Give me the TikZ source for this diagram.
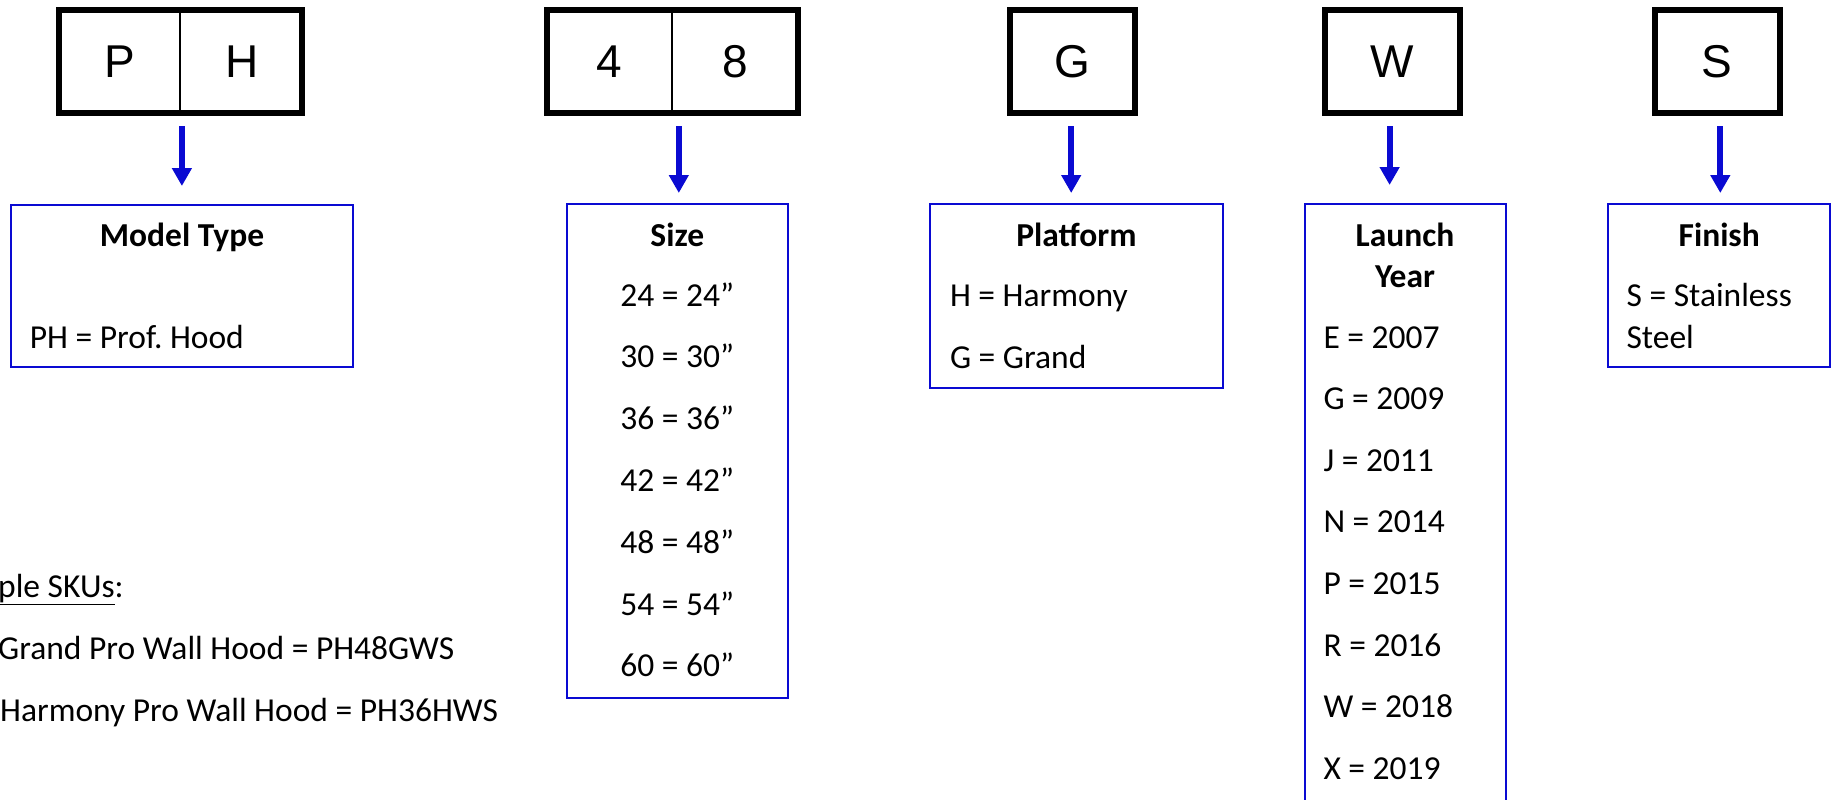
\documentclass[tikz,border=0pt]{standalone}
\usepackage{fontspec}
\setmainfont{Carlito}
\newfontfamily\arialfont{Liberation Sans}
\usepackage{tikz}
\usetikzlibrary{arrows.meta}
\usepackage{xcolor}
\definecolor{keyblue}{RGB}{10,10,210}

\begin{document}
\begin{tikzpicture}[x=1pt, y=-1pt,
    letterbox/.style={draw, line width=6pt, inner sep=0pt, outer sep=0pt, minimum height=103pt},
    letter/.style={inner sep=0pt, font=\arialfont\fontsize{46}{46}\selectfont},
    keybox/.style={draw=keyblue, line width=2pt, inner sep=0pt, outer sep=0pt},
    pointer/.style={keyblue, line width=6pt, -{Triangle[width=19pt,length=18pt]}, shorten <=13pt},
    title/.style={anchor=base, inner sep=0pt, font=\fontsize{33.5}{40}\selectfont\bfseries},
    entry/.style={anchor=base west, inner sep=0pt, font=\fontsize{33.5}{40}\selectfont}]
    \clip (0,0) rectangle (1834,800);

    % code letters
    \node[letterbox, minimum width=243pt] (ph) at (180,61.5) {};
    \node[letterbox, minimum width=251pt] (size) at (672.4,61.5) {};
    \node[letterbox, minimum width=125pt] (plat) at (1072.6,61.5) {};
    \node[letterbox, minimum width=135pt] (year) at (1392,61.5) {};
    \node[letterbox, minimum width=125pt] (fin) at (1717,61.5) {};
    \draw[line width=2pt] (ph.north) -- (ph.south);
    \draw[line width=2pt] (size.north) -- (size.south);
    \foreach \n/\x/\c in {p/120/P, h/242/H, four/609/4, eight/735/8, g/1072.6/G, w/1392/W, s/1717/S}
        \node[letter] (\n) at (\x,62) {\c};

    % key boxes
    \node[keybox, minimum width=342.4pt, minimum height=162pt] (modelkey) at (182.1,286) {};
    \node[keybox, minimum width=220.7pt, minimum height=494pt] (sizekey) at (677.25,451) {};
    \node[keybox, minimum width=292.6pt, minimum height=184pt] (platkey) at (1076.6,296) {};
    \node[keybox, minimum width=201.1pt, minimum height=626pt] (yearkey) at (1405.15,517) {};
    \node[keybox, minimum width=221.5pt, minimum height=163pt] (finkey) at (1719.15,285.5) {};

    \foreach \a/\b/\x/\gap in {ph/modelkey/181.9/19, size/sizekey/678.8/11, plat/platkey/1071.2/11, year/yearkey/1389.6/19, fin/finkey/1720.3/11}
        \draw[pointer, shorten >=\gap pt] (\a.south -| \x,0) -- (\b.north -| \x,0);

    % model type
    \node[title] (modeltitle) at (182,246) {Model Type};
    \node[entry] (modelph) at (29.7,348) {PH = Prof.\ Hood};

    % size
    \node[title] (sizetitle) at (677.3,246) {Size};
    \foreach \v [count=\i] in {24,30,36,42,48,54,60}
        \node[entry, anchor=base] (size\i) at (677.3,244.2+61.8*\i) {\v{} = \v”};

    % platform
    \node[title] (plattitle) at (1076.4,246) {Platform};
    \node[entry] (plath) at (949.8,306) {H = Harmony};
    \node[entry] (platg) at (949.8,368) {G = Grand};

    % launch year
    \node[title] (yeartitle) at (1405,246) {Launch};
    \node[title] (yeartitle2) at (1405,287) {Year};
    \foreach \c/\y [count=\i] in {E/2007, G/2009, J/2011, N/2014, P/2015, R/2016, W/2018, X/2019}
        \node[entry] (year\i) at (1323.3,286.4+61.6*\i) {\c{} = \y};

    % finish
    \node[title] (fintitle) at (1719.2,246) {Finish};
    \node[entry] (fins1) at (1626.4,306) {S = Stainless};
    \node[entry] (fins2) at (1626.4,348) {Steel};

    % examples
    \node[entry] (skus) at (-2,597) {\underline{ple SKUs}:};
    \node[entry] (grand) at (-2,659) {Grand Pro Wall Hood = PH48GWS};
    \node[entry] (harmony) at (0,721) {Harmony Pro Wall Hood = PH36HWS};
\end{tikzpicture}
\end{document}
